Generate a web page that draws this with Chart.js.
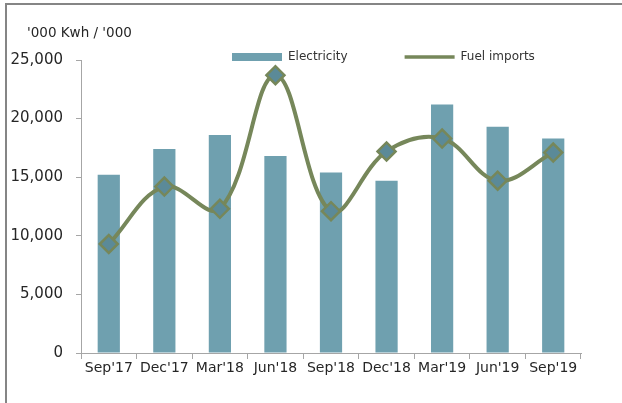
<!DOCTYPE html>
<html>
<head>
<meta charset="utf-8">
<script src="https://cdn.jsdelivr.net/npm/chart.js@4/dist/chart.umd.min.js"></script>
<style>
  html, body { margin: 0; padding: 0; background: #fff; }
  #wrap { position: relative; width: 622px; height: 403px; overflow: hidden; }
  #frame { position: absolute; left: 5px; top: 3px; right: -10px; bottom: -10px;
           border-top: 2px solid #858585; border-left: 2px solid #858585; }
  canvas { position: absolute; left: 0; top: 0; }
</style>
</head>
<body>
<div id="wrap">
  <div id="frame"></div>
  <canvas id="chart" width="622" height="403"></canvas>
</div>
<script>
const categories = ["Sep'17", "Dec'17", "Mar'18", "Jun'18", "Sep'18", "Dec'18", "Mar'19", "Jun'19", "Sep'19"];
const electricity = [15200, 17400, 18600, 16800, 15400, 14700, 21200, 19300, 18300];
const fuelImports = [9300, 14200, 12300, 23700, 12100, 17200, 18300, 14700, 17100];
const yTicks = [0, 5000, 10000, 15000, 20000, 25000];
const unitLabel = "'000 Kwh / '000";

const barColor = "#6fa0af";
const lineColor = "#76875a";
const markerFill = "#5b8a98";
const axisColor = "#a6a6a6";
const textColor = "#262626";

// legend sits over the plot like in the excel original
const legendPlace = {
  id: "legendPlace",
  afterLayout(chart) {
    const l = chart.legend;
    const pad = l.options.labels.padding;
    l.left = 232 - pad;
    l.right = 622;
    l.top = 57 - pad - 6;
    l.bottom = 80;
  },
  afterDraw(chart) {
    const ctx = chart.ctx;
    ctx.save();
    ctx.font = "13.5px 'DejaVu Sans'";
    ctx.fillStyle = textColor;
    ctx.textBaseline = "alphabetic";
    ctx.fillText(unitLabel, 27, 37);
    ctx.restore();
  }
};

new Chart(document.getElementById("chart"), {
  type: "bar",
  data: {
    labels: categories,
    datasets: [
      {
        type: "line",
        label: "Fuel imports",
        data: fuelImports,
        borderColor: lineColor,
        borderWidth: 4,
        tension: 0.38,
        pointStyle: "rectRot",
        pointRadius: 9,
        pointBorderWidth: 2.5,
        pointBackgroundColor: markerFill,
        pointBorderColor: lineColor,
        fill: false,
        order: 0,
      },
      {
        label: "Electricity",
        data: electricity,
        backgroundColor: barColor,
        borderWidth: 0,
        barPercentage: 0.4,
        categoryPercentage: 1,
        order: 1,
      },
    ],
  },
  options: {
    responsive: false,
    animation: false,
    layout: { padding: { left: 0, right: 41, top: 0, bottom: 0 } },
    plugins: {
      tooltip: { enabled: false },
      legend: {
        position: "top",
        align: "start",
        maxHeight: 60,
        labels: {
          font: { family: "DejaVu Sans", size: 12 },
          color: "#333",
          padding: 57,
          usePointStyle: true,
          pointStyleWidth: 50,
          boxHeight: 8,
          generateLabels(chart) {
            return [
              { text: "Electricity", pointStyle: "rect", fillStyle: barColor, strokeStyle: barColor,
                lineWidth: 0, fontColor: "#333", datasetIndex: 1 },
              { text: "Fuel imports", pointStyle: "line", fillStyle: lineColor, strokeStyle: lineColor,
                lineWidth: 3.5, fontColor: "#333", datasetIndex: 0 },
            ];
          },
        },
      },
    },
    scales: {
      x: {
        grid: { display: true, drawOnChartArea: false, offset: true, tickLength: 6, color: axisColor },
        border: { color: axisColor },
        ticks: { font: { family: "DejaVu Sans", size: 14 }, color: textColor, padding: 1, maxRotation: 0 },
        afterFit: (s) => { s.height = 50; },
      },
      y: {
        min: 0,
        max: 25000,
        grid: { display: true, drawOnChartArea: false, tickLength: 5, color: axisColor },
        border: { color: axisColor },
        afterBuildTicks: (s) => { s.ticks = yTicks.map((v) => ({ value: v })); },
        ticks: {
          font: { family: "DejaVu Sans", size: 15 },
          color: textColor,
          padding: 13,
          callback: (v) => v.toLocaleString("en-US"),
        },
        afterFit: (s) => { s.width = 81; },
      },
    },
  },
  plugins: [legendPlace],
});
</script>
</body>
</html>
